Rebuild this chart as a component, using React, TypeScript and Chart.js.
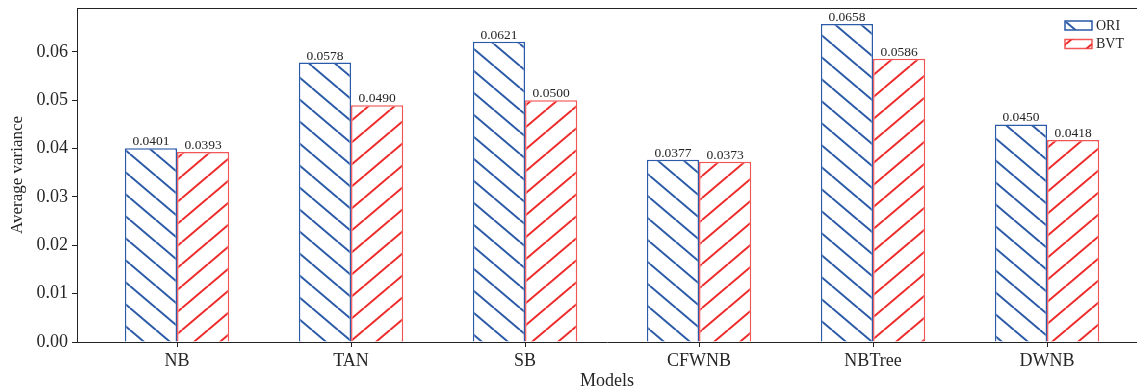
import React, { useEffect, useRef } from "react";
import { Chart, registerables } from "chart.js";

Chart.register(...registerables);

const categories = ["NB", "TAN", "SB", "CFWNB", "NBTree", "DWNB"];
const seriesLabels = ["ORI", "BVT"];
const oriValues = [0.0401, 0.0578, 0.0621, 0.0377, 0.0658, 0.045];
const bvtValues = [0.0393, 0.049, 0.05, 0.0373, 0.0586, 0.0418];
const yTickValues = [0, 0.01, 0.02, 0.03, 0.04, 0.05, 0.06];

const BLUE = "#2b5aa8";
const RED = "#ee2a2a";
const TEXT = "#262626";
const SERIF = "'Liberation Serif', 'Times New Roman', serif";

function makeHatch(color: string, back: boolean): CanvasPattern | string {
  const w = 26;
  const h = 22;
  const c = document.createElement("canvas");
  c.width = w;
  c.height = h;
  const ctx = c.getContext("2d");
  if (!ctx) return color;
  ctx.fillStyle = "#ffffff";
  ctx.fillRect(0, 0, w, h);
  ctx.strokeStyle = color;
  ctx.lineWidth = 2;
  for (const dx of [-w, 0, w]) {
    ctx.beginPath();
    if (back) {
      ctx.moveTo(dx, 0);
      ctx.lineTo(dx + w, h);
    } else {
      ctx.moveTo(dx, h);
      ctx.lineTo(dx + w, 0);
    }
    ctx.stroke();
  }
  const p = ctx.createPattern(c, "repeat");
  return p || color;
}

export default function App() {
  const ref = useRef<HTMLCanvasElement | null>(null);

  useEffect(() => {
    const canvas = ref.current;
    if (!canvas) return;
    const blueHatch = makeHatch(BLUE, true);
    const redHatch = makeHatch(RED, false);

    const valueLabels = {
      id: "valueLabels",
      afterDatasetsDraw(chart: any) {
        const ctx = chart.ctx;
        ctx.save();
        ctx.font = `13.5px ${SERIF}`;
        ctx.fillStyle = TEXT;
        ctx.textAlign = "center";
        ctx.textBaseline = "alphabetic";
        chart.data.datasets.forEach((ds: any, di: number) => {
          const meta = chart.getDatasetMeta(di);
          meta.data.forEach((el: any, i: number) => {
            const v = ds.data[i].y as number;
            ctx.fillText(v.toFixed(4), el.x, el.y - 3);
          });
        });
        ctx.restore();
      },
    };

    const frame = {
      id: "frame",
      afterDraw(chart: any) {
        const { ctx, chartArea } = chart;
        ctx.save();
        ctx.strokeStyle = "#222";
        ctx.lineWidth = 1;
        ctx.beginPath();
        ctx.moveTo(chartArea.left, chartArea.top + 0.5);
        ctx.lineTo(chartArea.right, chartArea.top + 0.5);
        ctx.stroke();
        ctx.restore();
      },
    };

    const legendPlugin = {
      id: "hatchLegend",
      afterDraw(chart: any) {
        const { ctx, chartArea } = chart;
        ctx.save();
        ctx.font = `14px ${SERIF}`;
        ctx.textBaseline = "middle";
        ctx.textAlign = "left";
        chart.data.datasets.forEach((ds: any, i: number) => {
          const x = chartArea.right - 72;
          const y = chartArea.top + 13 + i * 18.5;
          ctx.fillStyle = ds.backgroundColor;
          ctx.fillRect(x, y, 27, 9);
          ctx.strokeStyle = ds.borderColor;
          ctx.lineWidth = 1.5;
          ctx.strokeRect(x, y, 27, 9);
          ctx.fillStyle = TEXT;
          ctx.fillText(ds.label, x + 31, y + 5);
        });
        ctx.restore();
      },
    };

    const chart = new Chart(canvas, {
      type: "bar",
      data: {
        datasets: [
          {
            label: seriesLabels[0],
            data: oriValues.map((v, i) => ({ x: i, y: v })),
            backgroundColor: blueHatch as any,
            borderColor: BLUE,
            borderWidth: 1.5,
            categoryPercentage: 0.6,
            barPercentage: 1,
          },
          {
            label: seriesLabels[1],
            data: bvtValues.map((v, i) => ({ x: i, y: v })),
            backgroundColor: redHatch as any,
            borderColor: "rgba(238,42,42,0.8)",
            borderWidth: 1.5,
            categoryPercentage: 0.6,
            barPercentage: 1,
          },
        ],
      },
      options: {
        animation: false,
        responsive: false,
        maintainAspectRatio: false,
        layout: { padding: { top: 8, right: 0, left: 0, bottom: 0 } },
        plugins: {
          legend: { display: false },
          tooltip: { enabled: false },
        },
        scales: {
          x: {
            type: "linear",
            min: -0.575,
            max: 5.517,
            offset: false,
            afterBuildTicks: (s: any) => {
              s.ticks = categories.map((_, i) => ({ value: i }));
            },
            afterFit: (s: any) => {
              s.height = 50;
              s.paddingLeft = 0;
              s.paddingRight = 0;
            },
            ticks: {
              autoSkip: false,
              maxRotation: 0,
              padding: 3,
              color: TEXT,
              font: { family: SERIF, size: 18 },
              callback: (v: any) => categories[v as number] ?? "",
            },
            grid: {
              display: true,
              offset: false,
              drawOnChartArea: false,
              drawTicks: true,
              tickLength: 5,
              color: "#222",
            },
            border: { display: true, color: "#222", width: 1 },
            title: {
              display: true,
              text: "Models",
              color: TEXT,
              font: { family: SERIF, size: 18 },
              padding: { top: 0, bottom: 0 },
            },
          },
          y: {
            min: 0,
            max: 0.0691,
            afterBuildTicks: (s: any) => {
              s.ticks = yTickValues.map((v) => ({ value: v }));
            },
            afterFit: (s: any) => {
              s.width = 77;
              s.paddingTop = 0;
              s.paddingBottom = 0;
            },
            ticks: {
              padding: 4,
              color: TEXT,
              font: { family: SERIF, size: 18 },
              callback: (v: any) => Number(v).toFixed(2),
            },
            grid: {
              display: true,
              drawOnChartArea: false,
              drawTicks: true,
              tickLength: 5,
              color: "#222",
            },
            border: { display: true, color: "#222", width: 1 },
            title: {
              display: true,
              text: "Average variance",
              color: TEXT,
              font: { family: SERIF, size: 17 },
              padding: { top: 7, bottom: 2 },
            },
          },
        },
      },
      plugins: [valueLabels, frame, legendPlugin],
    } as any);

    return () => {
      chart.destroy();
    };
  }, []);

  return (
    <div style={{ position: "fixed", left: 0, top: 0, width: 1137, height: 392, background: "#fff" }}>
      <canvas ref={ref} width={1137} height={392} style={{ width: 1137, height: 392, display: "block" }} />
    </div>
  );
}
